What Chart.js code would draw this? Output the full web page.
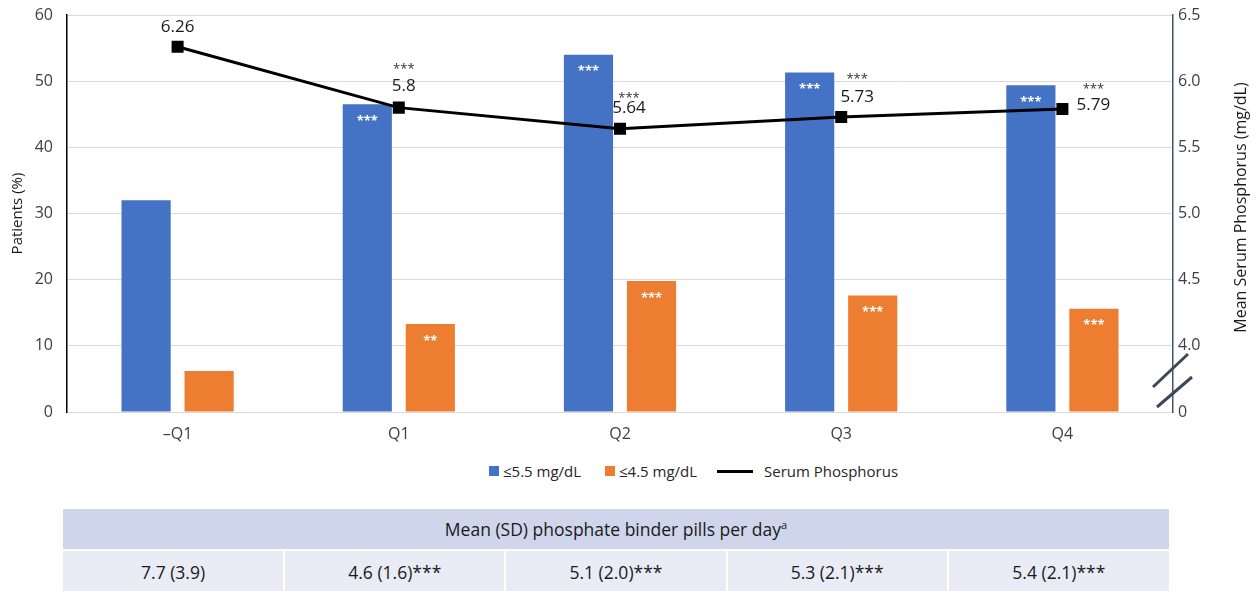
<!DOCTYPE html>
<html>
<head>
<meta charset="utf-8">
<script src="https://cdn.jsdelivr.net/npm/chart.js@4.4.0/dist/chart.umd.min.js"></script>
<style>
  body { margin: 0; background: #fff; font-family: 'Open Sans', sans-serif; }
  #wrap { position: relative; width: 1255px; height: 591px; overflow: hidden; background: #fff; }
  #chartBox { position: absolute; left: 0; top: 0; width: 1255px; height: 452px; }
  .lg { position: absolute; top: 460px; height: 22px; display: flex; align-items: center; font-size: 15px; color: #262626; white-space: nowrap; }
  .lg .sq { width: 10px; height: 10px; margin-right: 4px; }
  .lg .ln { width: 36px; height: 3px; background: #000; margin-right: 11px; }
  table.pills { position: absolute; left: 63px; top: 509px; width: 1106px; border-collapse: collapse; table-layout: fixed; font-size: 17.5px; color: #1a1a1a; }
  table.pills th { height: 40px; background: #cfd5ea; font-weight: normal; padding: 0; }
  table.pills th sup { font-size: 11px; }
  table.pills td { height: 41px; background: #e9ebf5; text-align: center; padding: 0; border-top: 2px solid #fff; border-left: 2px solid #fff; }
  table.pills td:first-child { border-left: none; }
</style>
</head>
<body>
<div id="wrap">
  <div id="chartBox"><canvas id="chart"></canvas></div>
  <div class="lg" style="left:489px"><span class="sq" style="background:#4472c4"></span>≤5.5 mg/dL</div>
  <div class="lg" style="left:605px"><span class="sq" style="background:#ed7d31"></span>≤4.5 mg/dL</div>
  <div class="lg" style="left:717px"><span class="ln"></span>Serum Phosphorus</div>
  <table class="pills">
    <tr><th colspan="5">Mean (SD) phosphate binder pills per day<sup>a</sup></th></tr>
    <tr id="pillRow"></tr>
  </table>
</div>
<script>
// quarters relative to start
const categories = ['–Q1', 'Q1', 'Q2', 'Q3', 'Q4'];

// % of patients at or below threshold
const pctBelow55 = [32, 46.5, 54, 51.3, 49.4];
const pctBelow45 = [6.2, 13.3, 19.8, 17.6, 15.6];

// mean serum phosphorus, mg/dL
const serumP = [6.26, 5.8, 5.64, 5.73, 5.79];

// significance marks
const sig55 = ['', '***', '***', '***', '***'];
const sig45 = ['', '**', '***', '***', '***'];
const sigP = ['', '***', '***', '***', '***'];

// phosphate binder pills per day, mean (SD)
const pills = ['7.7 (3.9)', '4.6 (1.6)***', '5.1 (2.0)***', '5.3 (2.1)***', '5.4 (2.1)***'];

// where the line labels sit around each marker: [dx, value dy, stars dy]
const pLabelShift = [[0, -20, 0], [5, -21, -42], [9, -21, -35], [16, -20, -42], [31, -4, -24]];

const row = document.getElementById('pillRow');
pills.forEach(p => {
    const td = document.createElement('td');
    td.textContent = p;
    row.appendChild(td);
});

const FONT = "'Open Sans', sans-serif";

// labels on bars and line points
const annotate = {
    id: 'annotate',
    afterDatasetsDraw(chart) {
        const ctx = chart.ctx;
        ctx.save();
        ctx.textAlign = 'center';
        ctx.textBaseline = 'middle';
        [[0, sig55], [1, sig45]].forEach(([di, sig]) => {
            chart.getDatasetMeta(di).data.forEach((bar, i) => {
                if (!sig[i]) return;
                ctx.fillStyle = '#ffffff';
                ctx.font = `bold 13px ${FONT}`;
                ctx.fillText(sig[i], bar.x, bar.y + 17);
            });
        });
        chart.getDatasetMeta(2).data.forEach((pt, i) => {
            const [dx, dy, sy] = pLabelShift[i];
            ctx.fillStyle = '#1a1a1a';
            ctx.font = `17px ${FONT}`;
            ctx.fillText(String(serumP[i]), pt.x + dx, pt.y + dy);
            if (sigP[i]) {
                ctx.fillStyle = '#333';
                ctx.font = `13px ${FONT}`;
                ctx.fillText(sigP[i], pt.x + dx, pt.y + sy + 4);
            }
        });
        ctx.restore();
    }
};

// right axis title (reads upward) and the axis break marks
const rightDecor = {
    id: 'rightDecor',
    afterDraw(chart) {
        const ctx = chart.ctx;
        const yr = chart.scales.yR;
        ctx.save();
        ctx.translate(1241, (chart.chartArea.top + chart.chartArea.bottom) / 2 - 6);
        ctx.rotate(-Math.PI / 2);
        ctx.textAlign = 'center';
        ctx.textBaseline = 'middle';
        ctx.fillStyle = '#1a1a1a';
        ctx.font = `16px ${FONT}`;
        ctx.fillText('Mean Serum Phosphorus (mg/dL)', 0, 0);
        ctx.restore();

        const ax = yr.left;
        const y0 = yr.getPixelForValue(3.5);
        ctx.save();
        ctx.strokeStyle = '#3c4858';
        ctx.lineWidth = 3;
        ctx.beginPath();
        ctx.moveTo(ax - 20, y0 - 25);
        ctx.lineTo(ax + 15, y0 - 58);
        ctx.moveTo(ax - 16, y0 - 5);
        ctx.lineTo(ax + 19, y0 - 35);
        ctx.stroke();
        ctx.restore();
    }
};

new Chart(document.getElementById('chart'), {
    data: {
        labels: categories,
        datasets: [
            {
                type: 'bar', label: '≤5.5 mg/dL', data: pctBelow55, yAxisID: 'y',
                backgroundColor: '#4472c4', order: 1,
                categoryPercentage: 0.57, barPercentage: 0.78
            },
            {
                type: 'bar', label: '≤4.5 mg/dL', data: pctBelow45, yAxisID: 'y',
                backgroundColor: '#ed7d31', order: 1,
                categoryPercentage: 0.57, barPercentage: 0.78
            },
            {
                type: 'line', label: 'Serum Phosphorus', data: serumP, yAxisID: 'yR',
                borderColor: '#000', borderWidth: 3, backgroundColor: '#000',
                pointStyle: 'rect', pointRadius: 8.5, pointBorderWidth: 0,
                tension: 0, order: 0
            }
        ]
    },
    options: {
        responsive: true,
        maintainAspectRatio: false,
        animation: false,
        layout: { padding: { top: 15 } },
        plugins: { legend: { display: false }, tooltip: { enabled: false } },
        scales: {
            x: {
                grid: { display: false, drawTicks: false },
                border: { color: '#d9d9d9', width: 1 },
                ticks: { color: '#404040', font: { family: FONT, size: 16 }, padding: 13 },
                afterFit: s => { s.height = 40; }
            },
            y: {
                position: 'left', min: 0, max: 60,
                ticks: { stepSize: 10, color: '#404040', font: { family: FONT, size: 16 }, padding: 14 },
                grid: { color: '#d9d9d9', drawTicks: false },
                border: { color: '#000', width: 1.5 },
                title: { display: true, text: 'Patients (%)', color: '#1a1a1a', font: { family: FONT, size: 15 }, padding: { top: 9 } },
                afterFit: s => { s.width = 67; s.paddingTop = 0; s.paddingBottom = 0; }
            },
            yR: {
                position: 'right', min: 3.5, max: 6.5,
                ticks: {
                    stepSize: 0.5, color: '#404040', font: { family: FONT, size: 16 }, padding: 5,
                    callback: v => (v === 3.5 ? '0' : v.toFixed(1))
                },
                grid: { display: false, drawTicks: false },
                border: { color: '#44546a', width: 1.5 },
                afterFit: s => { s.width = 82; s.paddingTop = 0; s.paddingBottom = 0; }
            }
        }
    },
    plugins: [annotate, rightDecor]
});
</script>
</body>
</html>
